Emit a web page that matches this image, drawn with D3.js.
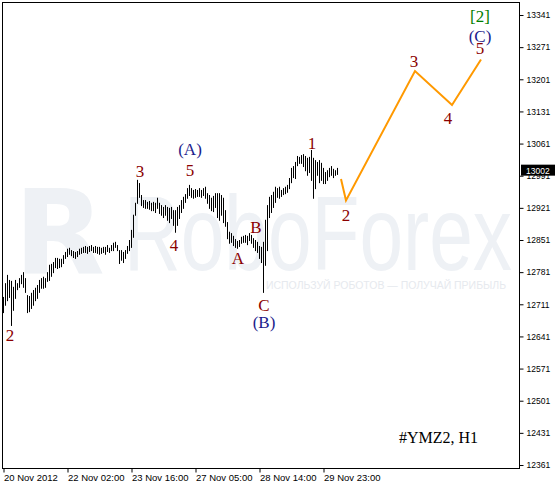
<!DOCTYPE html>
<html><head><meta charset="utf-8">
<script src="https://cdn.jsdelivr.net/npm/d3@7/dist/d3.min.js"></script>
<style>html,body{margin:0;padding:0;background:#fff;}svg{display:block;}</style>
</head><body>
<script>
// ---- data ----
const highs = [12727,12757,12775,12764,12762,12749,12764,12757,12768,12775,12781,12768,12731,12729,12736,12742,12747,12753,12764,12768,
12771,12768,12781,12797,12799,12803,12812,12812,12810,12810,12818,12825,12832,12834,12829,12827,12825,12827,12832,12834,
12836,12838,12836,12838,12840,12836,12838,12836,12836,12834,12836,12836,12840,12834,12840,12845,12847,12840,12829,12829,
12825,12829,12838,12851,12873,12906,12932,12982,12975,12949,12938,12938,12934,12936,12932,12934,12932,12943,12932,12927,
12923,12927,12923,12921,12923,12916,12916,12923,12927,12938,12945,12951,12964,12971,12964,12960,12962,12960,12964,12960,
12964,12967,12953,12949,12943,12947,12953,12953,12953,12949,12943,12916,12890,12869,12866,12860,12853,12849,12851,12858,
12860,12862,12860,12866,12862,12855,12851,12847,12838,12836,12847,12895,12927,12945,12949,12956,12967,12964,12967,12960,
12964,12967,12971,12986,13008,13012,13021,13034,13032,13036,13038,13034,13030,13032,13047,13030,13025,13021,13025,13019,
13008,12999,13003,13008,13012,13006,13003,13008];
const lows = [12694,12710,12720,12727,12666,12699,12725,12744,12749,12757,12749,12738,12694,12696,12703,12710,12720,12725,12738,12747,
12747,12749,12762,12764,12773,12781,12792,12790,12792,12794,12801,12812,12816,12821,12818,12814,12812,12816,12821,12823,
12825,12825,12823,12827,12829,12825,12825,12823,12821,12823,12825,12821,12827,12825,12829,12829,12836,12829,12801,12808,
12803,12812,12823,12829,12836,12858,12906,12932,12945,12927,12923,12921,12921,12919,12916,12916,12912,12921,12910,12906,
12901,12906,12895,12890,12899,12884,12869,12884,12899,12912,12921,12934,12943,12949,12945,12943,12945,12947,12947,12945,
12949,12943,12932,12921,12916,12914,12923,12901,12895,12906,12890,12882,12855,12845,12847,12840,12836,12834,12838,12845,
12847,12847,12842,12851,12845,12836,12829,12825,12812,12803,12738,12797,12829,12901,12912,12923,12934,12945,12943,12947,
12951,12953,12956,12964,12977,12988,12986,13014,13019,13019,13012,13003,12993,12999,12982,12943,12964,12993,12977,12982,
12975,12975,12982,12990,12993,12988,12993,12995];
const lastPrice = 13002;
const yTicks = [12361,12431,12501,12571,12641,12711,12781,12851,12921,12991,13061,13131,13201,13271,13341];
const xTickIdx = [0,32,64,96,128,160];
const xTickLabels = ["20 Nov 2012","22 Nov 02:00","23 Nov 16:00","27 Nov 05:00","28 Nov 14:00","29 Nov 23:00"];
const projIdx = [169,171.5,206,224.5,239];
const projPrice = [12984,12937,13219,13145,13244];
// wave labels: [bar index, price, text, kind]
const waveLabels = [
  [3.5,12631,"2","n"],[68.5,12988,"3","n"],[93.5,12990,"5","n"],[93.5,13036,"(A)","p"],
  [85.5,12827,"4","n"],[117.5,12799,"A","n"],[126.5,12866,"B","n"],[130.5,12696,"C","n"],
  [130.5,12659,"(B)","p"],[154.5,13050,"1","n"],[171.5,12892,"2","n"],
  [205.5,13228,"3","n"],[222.5,13104,"4","n"],[238.5,13256,"5","n"],[238.5,13282,"(C)","p"],[238.5,13326,"[2]","g"]
];
const symbolText = "#YMZ2, H1";

// ---- layout ----
const W = 559, H = 486;
const L = 2.5, R = 519.5, T = 2.5, B = 468.5;
const svg = d3.select("body").append("svg").attr("width", W).attr("height", H);

const x = d3.scaleLinear().domain([0, 1]).range([3, 5]); // 2px per bar
const y = d3.scaleLinear().domain([12361, 13341]).range([465, 15]);

// watermark
const wm = svg.append("g").attr("fill", "#eef1f5");
wm.append("text").attr("x", 14).attr("y", 274).attr("font-family", "DejaVu Sans").attr("font-weight", "bold")
  .attr("font-size", 118).text("R");
wm.append("text").attr("x", 124).attr("y", 270).attr("font-family", "Liberation Sans")
  .attr("font-size", 106).attr("textLength", 388).attr("lengthAdjust", "spacingAndGlyphs").text("RoboForex");
wm.append("text").attr("x", 266).attr("y", 289).attr("font-family", "Liberation Sans")
  .attr("font-size", 10).attr("textLength", 240).attr("lengthAdjust", "spacingAndGlyphs")
  .attr("fill", "#e6e9ee").text("ИСПОЛЬЗУЙ РОБОТОВ — ПОЛУЧАЙ ПРИБЫЛЬ");

// frame
svg.append("rect").attr("x", L).attr("y", T).attr("width", R - L).attr("height", B - T)
  .attr("fill", "none").attr("stroke", "#000").attr("stroke-width", 1);

// bars
svg.append("g").selectAll("line").data(highs).join("line")
  .attr("x1", (d, i) => x(i) + 0.5).attr("x2", (d, i) => x(i) + 0.5)
  .attr("y1", d => y(d)).attr("y2", (d, i) => y(lows[i]) + 1)
  .attr("stroke", "#000").attr("stroke-width", 1);

// projection
svg.append("path").datum(projIdx.map((d, i) => [d, projPrice[i]]))
  .attr("d", d3.line().x(d => x(d[0])).y(d => y(d[1])))
  .attr("fill", "none").attr("stroke", "#ff9900").attr("stroke-width", 2);

// right axis
const yAxis = d3.axisRight(y).tickValues(yTicks).tickSize(4).tickPadding(3).tickFormat(d3.format("d"));
const gy = svg.append("g").attr("transform", `translate(${R},0)`).call(yAxis);
gy.select(".domain").remove();
gy.selectAll("text").attr("font-family", "Liberation Sans").attr("font-size", 8.5).attr("fill", "#000");

// bottom axis
const xAxis = d3.axisBottom(x).tickValues(xTickIdx).tickSize(4).tickFormat((d, i) => xTickLabels[i]);
const gx = svg.append("g").attr("transform", `translate(0.5,${B})`).call(xAxis);
gx.select(".domain").remove();
gx.selectAll("text").attr("text-anchor", "start").attr("x", 0).attr("dy", "0.71em").attr("y", 6)
  .attr("font-family", "Liberation Sans").attr("font-size", 9.5).attr("fill", "#000");

// last price marker
const gp = svg.append("g");
gp.append("rect").attr("x", 521).attr("y", y(lastPrice) - 6).attr("width", 34).attr("height", 11).attr("fill", "#000");
gp.append("text").attr("x", 526).attr("y", y(lastPrice) + 3).attr("font-family", "Liberation Sans")
  .attr("font-size", 8.5).attr("fill", "#fff").text(d3.format("d")(lastPrice));

// wave labels
const colors = { n: "#8b0000", p: "#1c1c8c", g: "#008000" };
svg.append("g").selectAll("text").data(waveLabels).join("text")
  .attr("x", d => x(d[0])).attr("y", d => y(d[1]))
  .attr("text-anchor", "middle").attr("font-family", "Liberation Serif").attr("font-size", 17)
  .attr("fill", d => colors[d[3]]).text(d => d[2]);

svg.append("text").attr("x", 399).attr("y", 443).attr("font-family", "Liberation Serif")
  .attr("font-size", 16).attr("fill", "#000").text(symbolText);
</script>
</body></html>
